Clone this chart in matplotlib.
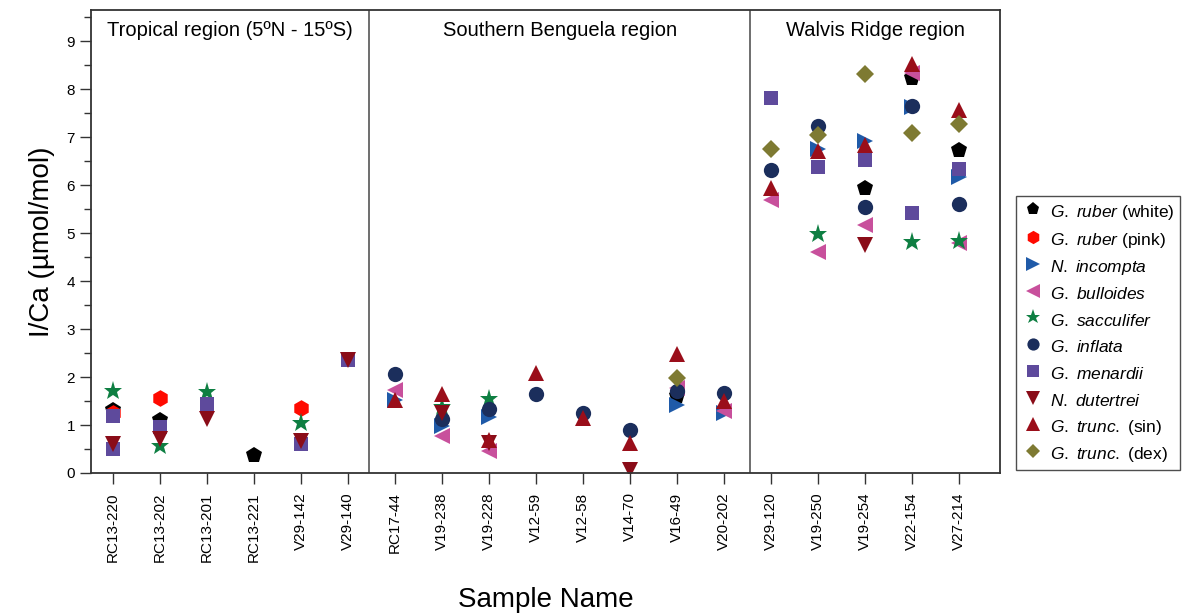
import matplotlib
matplotlib.use('Agg')
import matplotlib.pyplot as plt
from matplotlib.lines import Line2D

plt.rcParams['font.family'] = ['Liberation Sans', 'DejaVu Sans']
plt.rcParams['mathtext.fontset'] = 'custom'
plt.rcParams['mathtext.it'] = 'Liberation Sans:italic'
plt.rcParams['mathtext.rm'] = 'Liberation Sans'

# sample names along the x axis
samples = ['RC13-220', 'RC13-202', 'RC13-201', 'RC13-221', 'V29-142', 'V29-140',
           'RC17-44', 'V19-238', 'V19-228', 'V12-59', 'V12-58', 'V14-70', 'V16-49', 'V20-202',
           'V29-120', 'V19-250', 'V19-254', 'V22-154', 'V27-214']

regions = ['Tropical region (5ºN - 15ºS)', 'Southern Benguela region', 'Walvis Ridge region']

# I/Ca values (umol/mol) per species
ruber_white_at = ['RC13-220', 'RC13-202', 'RC13-221', 'V16-49', 'V19-254', 'V22-154', 'V27-214']
ruber_white = [1.32, 1.10, 0.37, 1.60, 5.95, 8.24, 6.74]

ruber_pink_at = ['RC13-220', 'RC13-202', 'V29-142']
ruber_pink = [1.25, 1.57, 1.35]

incompta_at = ['RC17-44', 'V19-238', 'V19-228', 'V16-49', 'V20-202', 'V19-250', 'V19-254', 'V22-154', 'V27-214']
incompta = [1.53, 0.98, 1.16, 1.42, 1.24, 6.76, 6.92, 7.63, 6.16]

bulloides_at = ['RC17-44', 'V19-238', 'V19-228', 'V16-49', 'V20-202', 'V29-120', 'V19-250', 'V19-254', 'V22-154', 'V27-214']
bulloides = [1.73, 0.77, 0.46, 1.78, 1.29, 5.70, 4.61, 5.17, 8.33, 4.79]

sacculifer_at = ['RC13-220', 'RC13-202', 'RC13-201', 'V29-142', 'V19-238', 'V19-228', 'V19-250', 'V22-154', 'V27-214']
sacculifer = [1.71, 0.56, 1.69, 1.05, 1.38, 1.55, 4.98, 4.82, 4.84]

inflata_at = ['RC17-44', 'V19-238', 'V19-228', 'V12-59', 'V12-58', 'V14-70', 'V16-49', 'V20-202',
              'V29-120', 'V19-250', 'V19-254', 'V22-154', 'V27-214']
inflata = [2.06, 1.12, 1.33, 1.64, 1.26, 0.90, 1.71, 1.66, 6.31, 7.23, 5.55, 7.65, 5.60]

menardii_at = ['RC13-220', 'RC13-220', 'RC13-202', 'RC13-201', 'V29-142', 'V29-140',
               'V29-120', 'V19-250', 'V19-254', 'V22-154', 'V27-214']
menardii = [1.19, 0.49, 0.95, 1.43, 0.60, 2.35, 7.81, 6.37, 6.52, 5.42, 6.33]

dutertrei_at = ['RC13-220', 'RC13-202', 'RC13-201', 'V29-142', 'V29-140', 'V19-238', 'V19-228', 'V14-70', 'V19-254']
dutertrei = [0.60, 0.71, 1.12, 0.67, 2.36, 1.24, 0.62, 0.06, 4.75]

trunc_sin_at = ['RC17-44', 'V19-238', 'V19-228', 'V12-59', 'V12-58', 'V14-70', 'V16-49', 'V20-202',
                'V29-120', 'V19-250', 'V19-254', 'V22-154', 'V27-214']
trunc_sin = [1.52, 1.65, 0.69, 2.09, 1.14, 0.63, 2.49, 1.51, 5.93, 6.71, 6.83, 8.52, 7.56]

trunc_dex_at = ['V16-49', 'V29-120', 'V19-250', 'V19-254', 'V22-154', 'V27-214']
trunc_dex = [1.97, 6.76, 7.04, 8.31, 7.08, 7.27]

# (label, samples, values, marker, colour, size)
series = [
    (r'$\it{G.}$ $\it{ruber}$ (white)', ruber_white_at, ruber_white, 'p', '#000000', 12),
    (r'$\it{G.}$ $\it{ruber}$ (pink)', ruber_pink_at, ruber_pink, 'h', '#ff0a00', 12),
    (r'$\it{N.}$ $\it{incompta}$', incompta_at, incompta, '>', '#1f5aa8', 12),
    (r'$\it{G.}$ $\it{bulloides}$', bulloides_at, bulloides, '<', '#c8509c', 12),
    (r'$\it{G.}$ $\it{sacculifer}$', sacculifer_at, sacculifer, '*', '#0e7f42', 14),
    (r'$\it{G.}$ $\it{inflata}$', inflata_at, inflata, 'o', '#1b2e5c', 11),
    (r'$\it{G.}$ $\it{menardii}$', menardii_at, menardii, 's', '#5e4a9c', 10),
    (r'$\it{N.}$ $\it{dutertrei}$', dutertrei_at, dutertrei, 'v', '#8a0c18', 12),
    (r'$\it{G.}$ $\it{trunc.}$ (sin)', trunc_sin_at, trunc_sin, '^', '#9a0e1a', 12),
    (r'$\it{G.}$ $\it{trunc.}$ (dex)', trunc_dex_at, trunc_dex, 'D', '#7e7a32', 9.5),
]

fig = plt.figure(figsize=(11.85, 6.13), dpi=100)
ax = fig.add_axes([0.0768, 0.2284, 0.7671, 0.7553])

handles = []
for label, at, vals, mk, col, ms in series:
    xs = [samples.index(s) for s in at]
    ax.plot(xs, vals, linestyle='none', marker=mk, color=col, markersize=ms,
            markeredgewidth=0)
    handles.append(Line2D([], [], linestyle='none', marker=mk, color=col,
                          markersize=ms * 0.8, markeredgewidth=0, label=label))

ax.set_xlim(-0.47, 18.87)
ax.set_ylim(0, 9.65)

# region separators and titles
for xb in [5.45, 13.55]:
    ax.axvline(xb, color='#555555', linewidth=1.2)
bounds = [(-0.47, 5.45), (5.45, 13.55), (13.55, 18.87)]
for (a, b), name in zip(bounds, regions):
    ax.text((a + b) / 2, 9.23, name, ha='center', va='center', fontsize=14.5)

ax.set_xticks(range(len(samples)))
ax.set_xticklabels(samples, rotation=90, fontsize=11)
ax.set_yticks(range(10))
ax.set_yticks([i + 0.5 for i in range(10)], minor=True)
ax.tick_params(axis='y', which='major', direction='out', length=8, width=1, labelsize=11, color='#333333')
ax.tick_params(axis='y', which='minor', direction='out', length=5, width=1, color='#333333')
ax.tick_params(axis='x', direction='out', length=8, width=1, pad=6, color='#333333')
for sp in ax.spines.values():
    sp.set_color('#333333')
    sp.set_linewidth(1.3)

ax.set_ylabel('I/Ca (µmol/mol)', fontsize=20, labelpad=8)
ax.set_xlabel('Sample Name', fontsize=20, labelpad=18)

leg = fig.legend(handles=handles, loc='upper left', bbox_to_anchor=(0.857, 0.68),
                 fontsize=12.5, frameon=True, fancybox=False, labelspacing=0.35,
                 handleheight=1.45, handletextpad=0.3, handlelength=1.4,
                 borderpad=0.3, borderaxespad=0)
leg.get_frame().set_edgecolor('#222222')
leg.get_frame().set_linewidth(1.0)

fig.savefig('out.png', dpi=100)
